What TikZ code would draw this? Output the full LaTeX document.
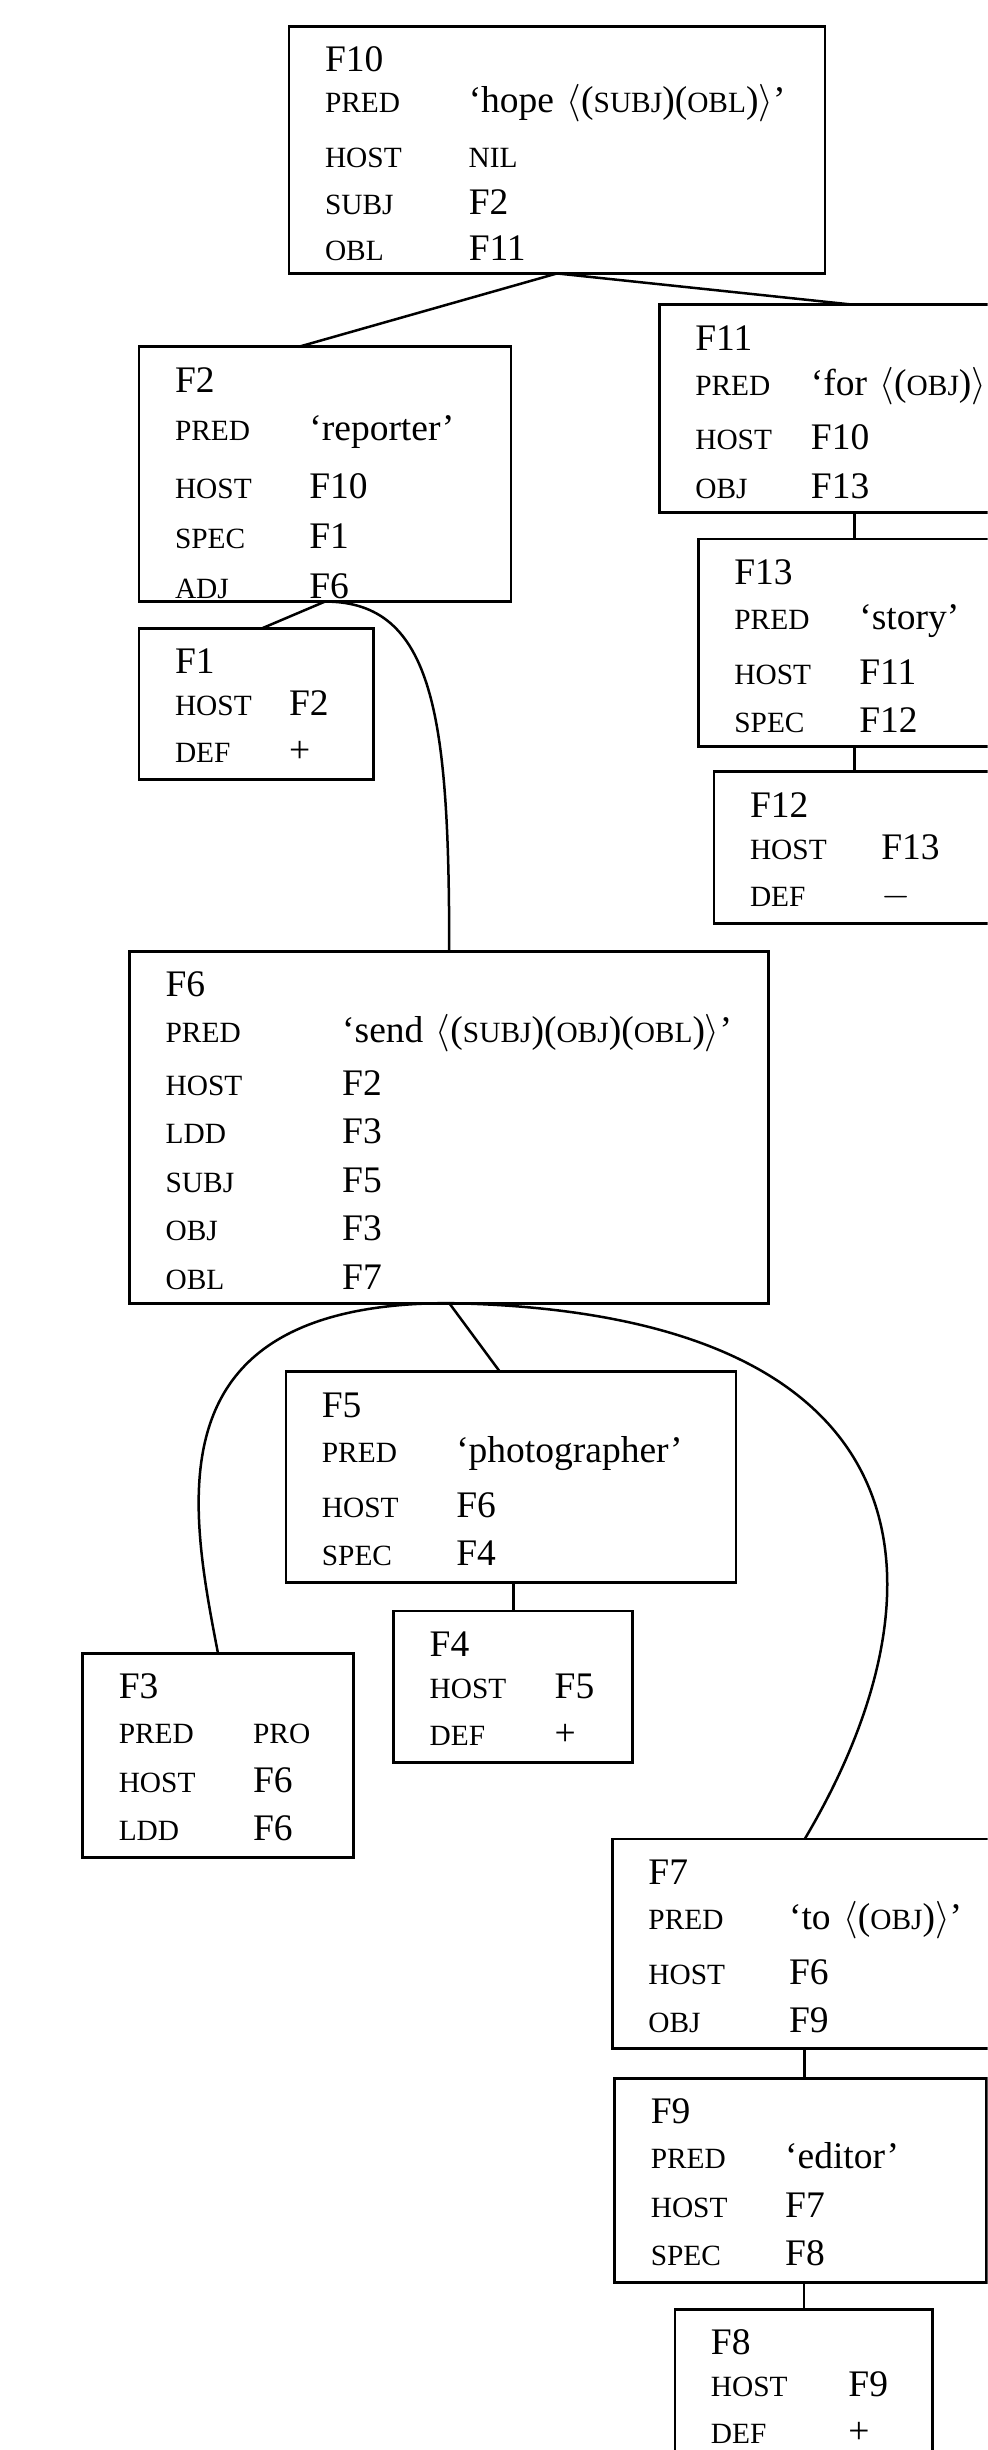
\documentclass[tikz,border=0pt]{standalone}
\usepackage{fontspec}
\setmainfont{Liberation Serif}
\newcommand{\fatt}[1]{{\fontsize{9.4}{10}\selectfont\MakeUppercase{#1}}}
\newenvironment{fstab}[2]{\renewcommand{\arraystretch}{#2}\begin{tabular}[t]{@{}p{#1}@{}l@{}}}{\end{tabular}}
\begin{document}
\begin{tikzpicture}[x=0.5pt, y=-0.5pt,
    fstr/.style 2 args={draw, line width=0.9pt, anchor=north west, outer sep=0pt,
      inner xsep=11.5pt, inner ysep=0pt, text width=#1, text height=14.5pt, text depth=#2,
      font=\fontsize{12}{15}\selectfont},
    link/.style={line width=0.8pt}]
    \path[use as bounding box, clip] (0,0) rectangle (632,1568);

    \node[fstr={148.5pt}{64.5pt}] (f10) at (185,17) {\begin{fstab}{46pt}{1}
        F10 & \\[-2pt]
        \fatt{pred} & `hope $\langle$(\fatt{subj})(\fatt{obl})$\rangle$' \\[2.5pt]
        \fatt{host} & \fatt{nil} \\
        \fatt{subj} & F2 \\
        \fatt{obl} & F11
      \end{fstab}};
    \node[fstr={96pt}{67pt}] (f2) at (89,222) {\begin{fstab}{43pt}{1.0667}
        F2 & \\[-0.5pt]
        \fatt{pred} & `reporter' \\[2.5pt]
        \fatt{host} & F10 \\
        \fatt{spec} & F1 \\
        \fatt{adj} & F6
      \end{fstab}};
    \node[fstr={101pt}{52pt}] (f11) at (422,195) {\begin{fstab}{37pt}{1.0333}
        F11 & \\[-1pt]
        \fatt{pred} & `for $\langle$(\fatt{obj})$\rangle$' \\[2pt]
        \fatt{host} & F10 \\
        \fatt{obj} & F13
      \end{fstab}};
    \node[fstr={77pt}{52pt}] (f13) at (447,345) {\begin{fstab}{40pt}{1.0333}
        F13 & \\[-1pt]
        \fatt{pred} & `story' \\[2pt]
        \fatt{host} & F11 \\
        \fatt{spec} & F12
      \end{fstab}};
    \node[fstr={67pt}{34pt}] (f12) at (457,494) {\begin{fstab}{42pt}{1}
        F12 & \\[-1.5pt]
        \fatt{host} & F13 \\
        \fatt{def} & $-$
      \end{fstab}};
    \node[fstr={52pt}{34pt}] (f1) at (89,402) {\begin{fstab}{36.5pt}{1}
        F1 & \\[-1.5pt]
        \fatt{host} & F2 \\
        \fatt{def} & +
      \end{fstab}};

    \node[fstr={181.5pt}{98pt}] (f6) at (83,609) {\begin{fstab}{56.5pt}{1.0333}
        F6 & \\[-1pt]
        \fatt{pred} & `send $\langle$(\fatt{subj})(\fatt{obj})(\fatt{obl})$\rangle$' \\[1.5pt]
        \fatt{host} & F2 \\
        \fatt{ldd} & F3 \\
        \fatt{subj} & F5 \\
        \fatt{obj} & F3 \\
        \fatt{obl} & F7
      \end{fstab}};
    \node[fstr={121pt}{53pt}] (f5) at (183,878) {\begin{fstab}{43pt}{1.0333}
        F5 & \\[-1pt]
        \fatt{pred} & `photographer' \\[2pt]
        \fatt{host} & F6 \\
        \fatt{spec} & F4
      \end{fstab}};
    \node[fstr={53.5pt}{34pt}] (f4) at (252,1031) {\begin{fstab}{40pt}{1}
        F4 & \\[-1.5pt]
        \fatt{host} & F5 \\
        \fatt{def} & +
      \end{fstab}};
    \node[fstr={63.5pt}{51pt}] (f3) at (53,1058) {\begin{fstab}{43pt}{1.0333}
        F3 & \\[-1pt]
        \fatt{pred} & \fatt{pro} \\
        \fatt{host} & F6 \\
        \fatt{ldd} & F6
      \end{fstab}};
    \node[fstr={100pt}{52.5pt}] (f7) at (392,1177) {\begin{fstab}{45pt}{1.0333}
        F7 & \\[-1pt]
        \fatt{pred} & `to $\langle$(\fatt{obj})$\rangle$' \\[2pt]
        \fatt{host} & F6 \\
        \fatt{obj} & F9
      \end{fstab}};
    \node[fstr={96pt}{51pt}] (f9) at (393.5,1330) {\begin{fstab}{43pt}{1.0333}
        F9 & \\[-1pt]
        \fatt{pred} & `editor' \\
        \fatt{host} & F7 \\
        \fatt{spec} & F8
      \end{fstab}};
    \node[fstr={59.5pt}{34pt}] (f8) at (432,1478) {\begin{fstab}{44pt}{1}
        F8 & \\[-1.5pt]
        \fatt{host} & F9 \\
        \fatt{def} & +
      \end{fstab}};

    % links between the structures
    \draw[link] (f10.south) -- ([xshift=-8.5pt]f2.north);
    \draw[link] (f10.south) -- (f11.north);
    \draw[link] (f13.north) -- (f13.north |- f11.south);
    \draw[link] (f13.south) -- (f12.north);
    \draw[link] (f2.south) -- ([xshift=2pt]f1.north);
    \draw[link] (f2.south) .. controls +(70,0) and +(0,-150) .. (f6.north);
    \draw[link] (f6.south) -- ([xshift=-3.5pt]f5.north);
    \draw[link] (f4.north) -- (f4.north |- f5.south);
    \draw[link] (f6.south) .. controls +(-190,0) and +(-19,-98) .. (f3.north);
    \draw[link] (f6.south) .. controls +(313,6) and +(95,-160) .. (f7.north);
    \draw[link] (f7.south) -- (f7.south |- f9.north);
    \draw[link] (f9.south -| f8.north) -- (f8.north);
\end{tikzpicture}
\end{document}
